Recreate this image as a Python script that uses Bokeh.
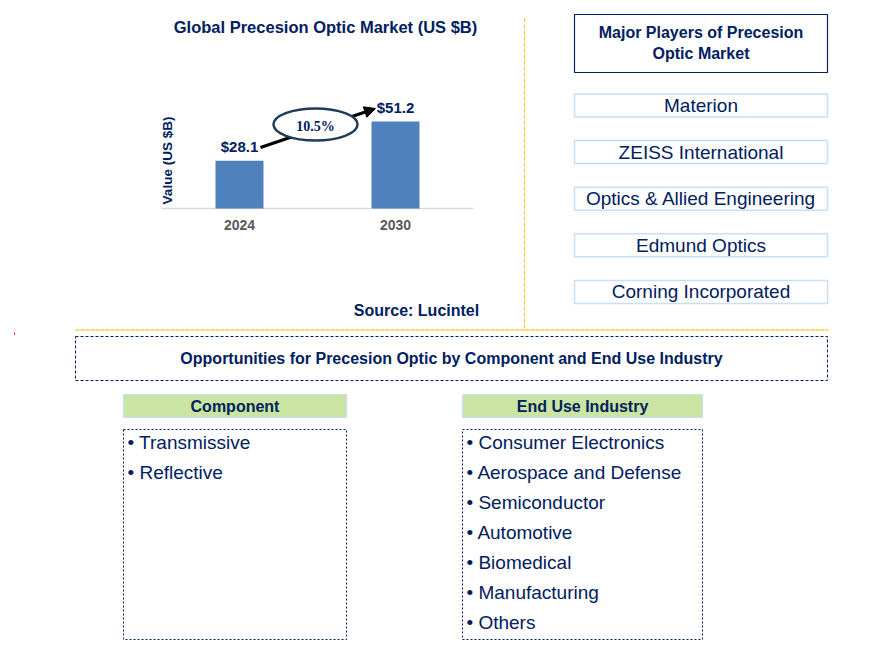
import math
from bokeh.plotting import figure
from bokeh.models import Range1d, Arrow, NormalHead
from bokeh.core.properties import value
from bokeh.embed import file_html
from bokeh.resources import INLINE

# ---------------- data ----------------
years = ["2024", "2030"]
market_values = [28.1, 51.2]
value_labels = ["$28.1", "$51.2"]
cagr_label = "10.5%"
chart_title = "Global Precesion Optic Market (US $B)"
y_axis_label = "Value (US $B)"
source_note = "Source: Lucintel"
players_title = ["Major Players of Precesion", "Optic Market"]
players = ["Materion", "ZEISS International", "Optics & Allied Engineering",
           "Edmund Optics", "Corning Incorporated"]
opportunities_title = "Opportunities for Precesion Optic by Component and End Use Industry"
component_title = "Component"
components = ["Transmissive", "Reflective"]
end_use_title = "End Use Industry"
end_uses = ["Consumer Electronics", "Aerospace and Defense", "Semiconductor",
            "Automotive", "Biomedical", "Manufacturing", "Others"]

# ---------------- styles ----------------
NAVY = "#002060"
BAR = "#4f81bd"
ORANGE = "#ffc000"
PALE_YELLOW = "#ffd966"
LIGHTBLUE = "#c6e0f5"
GREEN = "#c9e5a1"
FONT = value("Liberation Sans")

W, H = 853, 649
X_MIN, X_MAX = 0, W
Y_MIN, Y_MAX = 0, H

p = figure(width=W, height=H, x_range=Range1d(X_MIN, X_MAX), y_range=Range1d(Y_MAX, Y_MIN),
           output_backend="svg", toolbar_location=None, x_axis_type=None, y_axis_type=None,
           min_border=0, outline_line_color=None)
p.background_fill_color = "white"
p.border_fill_color = "white"

# bar-chart scales (extra ranges)
BASE_Y = 208.0
PX_PER_UNIT = 1.70
BAR_X0 = 239.0
BAR_DX = 156.0
p.extra_y_ranges = {"bar": Range1d((BASE_Y - Y_MAX) / PX_PER_UNIT, (BASE_Y - Y_MIN) / PX_PER_UNIT)}
p.extra_x_ranges = {"bar": Range1d((X_MIN - BAR_X0) / BAR_DX, (X_MAX - BAR_X0) / BAR_DX)}
idx = list(range(len(years)))


def txt(x, y, t, size, color=NAVY, bold=False, align="center", font=FONT, angle=0, **kw):
    p.text(x=x, y=y, text=t, text_font=font, text_font_size=size, text_color=color,
           text_font_style="bold" if bold else "normal", text_align=align,
           text_baseline="middle", angle=angle, **kw)


def box(x0, y0, x1, y1, line_color, fill_color=None, dash="solid", lw=1.0):
    p.quad(left=[x0], right=[x1], top=[y0], bottom=[y1], fill_color=fill_color,
           fill_alpha=1.0 if fill_color else 0.0, line_color=line_color, line_width=lw,
           line_dash=dash)


# ---------------- bar chart ----------------
txt([325], [26], [chart_title], "16.5px", bold=True)
p.segment(x0=[161], y0=[BASE_Y], x1=[473], y1=[BASE_Y], line_color="#d9d9d9", line_width=1.5)
p.vbar(x=idx, top=market_values, bottom=0, width=48 / BAR_DX, fill_color=BAR, line_color=None,
       x_range_name="bar", y_range_name="bar")
p.text(x=idx, y=market_values, text=value_labels, y_offset=-14, text_font=FONT,
       text_font_size="15px", text_font_style="bold", text_color=NAVY, text_align="center",
       text_baseline="middle", x_range_name="bar", y_range_name="bar")
p.text(x=idx, y=[0] * len(idx), text=years, y_offset=16, text_font=FONT,
       text_font_size="14px", text_font_style="bold", text_color="#595959", text_align="center",
       text_baseline="middle", x_range_name="bar", y_range_name="bar")
txt([167], [160], [y_axis_label], "13.5px", bold=True, angle=math.pi / 2)

p.add_layout(Arrow(end=NormalHead(size=11, fill_color="black", line_color="black"),
                   x_start=260, y_start=147, x_end=375, y_end=108,
                   line_width=3, line_color="black", level="underlay"))
p.ellipse(x=[315], y=[124], width=84, height=32, fill_color="white", line_color="#1f3b57",
          line_width=2.5)
txt([315], [126], [cagr_label], "14px", bold=True, font=value("Liberation Serif"), color=NAVY)
txt([416], [310], [source_note], "16px", bold=True)

# ---------------- separators ----------------
p.segment(x0=[524], y0=[18], x1=[524], y1=[328], line_color=ORANGE, line_width=1, line_dash="4 2")
p.segment(x0=[75], y0=[329.5], x1=[828], y1=[329.5], line_color=PALE_YELLOW, line_width=2,
          line_dash="4 1")
p.quad(left=[13.5], right=[14.5], top=[332], bottom=[334], fill_color="red", line_color=None)

# ---------------- major players ----------------
box(574, 14, 827, 72, NAVY, lw=1.2)
txt([700.5] * 2, [32, 53], players_title, "16px", bold=True)
for i, name in enumerate(players):
    cy = 105 + i * 46.6
    box(574, cy - 11.5, 827, cy + 11.5, LIGHTBLUE, lw=1.5)
    txt([700.5], [cy], [name], "19px")

# ---------------- opportunities ----------------
box(75, 336, 827, 380, NAVY, dash="3 2")
txt([451], [358], [opportunities_title], "16px", bold=True)

for (x0, x1, title, items) in [(123, 346, component_title, components),
                               (462, 702, end_use_title, end_uses)]:
    box(x0, 394, x1, 417, LIGHTBLUE, fill_color=GREEN, lw=1.2)
    txt([(x0 + x1) / 2], [405.5], [title], "16px", bold=True)
    box(x0, 429, x1, 639, NAVY, dash="2 2")
    ys = [442 + 30 * k for k in range(len(items))]
    txt([x0 + 4] * len(items), ys, ["\u2022 " + s for s in items], "19px", align="left")

open("out.html", "w").write(file_html(p, INLINE))
